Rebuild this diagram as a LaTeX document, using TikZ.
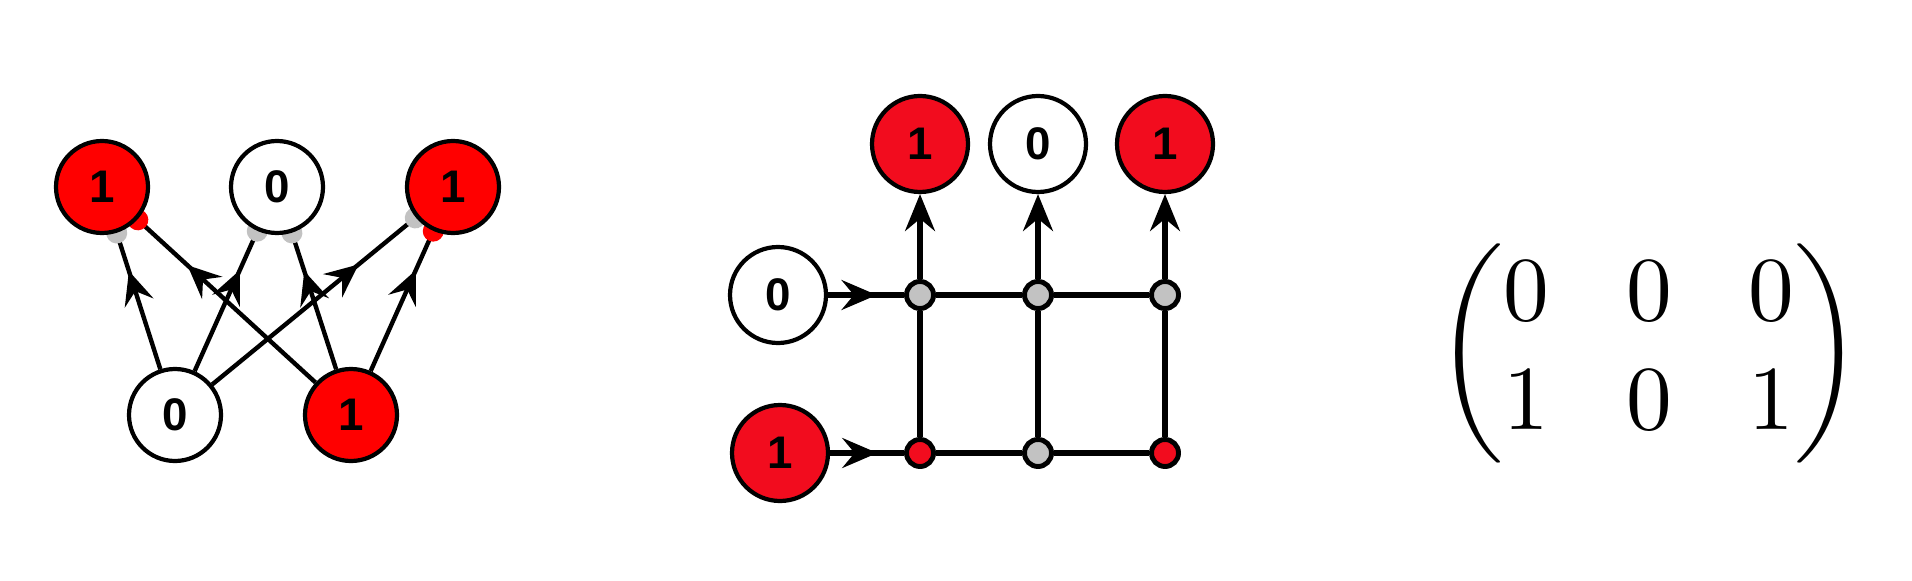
\documentclass[tikz,border=0pt]{standalone}
\usepackage{amsmath}
\usepackage{fontspec}
\setsansfont{Liberation Sans}
\usetikzlibrary{arrows.meta}
\usetikzlibrary{decorations.markings}
\usetikzlibrary{backgrounds}

\definecolor{onered}{RGB}{255,0,0}
\definecolor{cellred}{RGB}{242,12,30}
\definecolor{zerogray}{RGB}{194,194,194}

\tikzset{
  unit/.style={circle, draw, line width=1.2pt, minimum size=0.92cm, inner sep=0pt,
    font=\sffamily\bfseries\fontsize{13}{15}\selectfont},
  bigunit/.style={unit, minimum size=0.96cm},
  cell/.style={circle, draw, line width=1.4pt, minimum size=0.27cm, inner sep=0pt},
  grid/.style={line width=1.5pt},
  wire/.style={line width=1.25pt, decoration={markings,
      mark=at position 0.72 with {\arrow{Stealth[length=9.5pt,width=8.5pt,inset=3.5pt]}},
      mark=at position 0.999 with {\fill[#1] (0,0) circle (0.105);}},
    postaction={decorate}},
  feed/.style={grid, decoration={markings,
      mark=at position 0.64 with {\arrow{Stealth[length=10pt,width=8.5pt,inset=3.5pt]}}},
    postaction={decorate}},
}

\begin{document}
\begin{tikzpicture}
            \useasboundingbox (0,0) rectangle (19.12,5.8);
            \node[unit, fill=onered] (tl) at (1.02,3.93) {1};
            \node[unit, fill=white] (tm) at (2.77,3.93) {0};
            \node[unit, fill=onered] (tr) at (4.53,3.93) {1};
            \node[unit, fill=white] (bl) at (1.75,1.65) {0};
            \node[unit, fill=onered] (br) at (3.51,1.65) {1};
            \begin{scope}[on background layer]
                \draw[wire=zerogray] (bl) -- (tl);
                \draw[wire=zerogray] (bl) -- (tm);
                \draw[wire=zerogray] (bl) -- (tr);
                \draw[wire=onered] (br) -- (tl);
                \draw[wire=zerogray] (br) -- (tm);
                \draw[wire=onered] (br) -- (tr);
            \end{scope}

            \node[bigunit, fill=cellred] (t1) at (9.20,4.36) {1};
            \node[bigunit, fill=white] (t2) at (10.38,4.36) {0};
            \node[bigunit, fill=cellred] (t3) at (11.65,4.36) {1};
            \node[bigunit, fill=white] (x1) at (7.78,2.85) {0};
            \node[bigunit, fill=cellred] (x2) at (7.80,1.27) {1};
            \node[cell, fill=zerogray] (c11) at (9.20,2.85) {};
            \node[cell, fill=zerogray] (c12) at (10.38,2.85) {};
            \node[cell, fill=zerogray] (c13) at (11.65,2.85) {};
            \node[cell, fill=cellred] (c21) at (9.20,1.27) {};
            \node[cell, fill=zerogray] (c22) at (10.38,1.27) {};
            \node[cell, fill=cellred] (c23) at (11.65,1.27) {};
            \draw[grid] (c11) -- (c12) -- (c13);
            \draw[grid] (c21) -- (c22) -- (c23);
            \draw[grid] (c11) -- (c21);
            \draw[grid] (c12) -- (c22);
            \draw[grid] (c13) -- (c23);
            \draw[feed] (x1) -- (c11);
            \draw[feed] (x2) -- (c21);
            \draw[grid, -{Stealth[length=10.5pt,width=8.5pt,inset=3.5pt]}] (c11) -- (t1);
            \draw[grid, -{Stealth[length=10.5pt,width=8.5pt,inset=3.5pt]}] (c12) -- (t2);
            \draw[grid, -{Stealth[length=10.5pt,width=8.5pt,inset=3.5pt]}] (c13) -- (t3);

            \node[scale=2.6] (w) at (16.49,2.27)
                {$\setlength{\arraycolsep}{4.2pt}\begin{pmatrix} 0 & 0 & 0\\ 1 & 0 & 1 \end{pmatrix}$};
        \end{tikzpicture}
\end{document}
